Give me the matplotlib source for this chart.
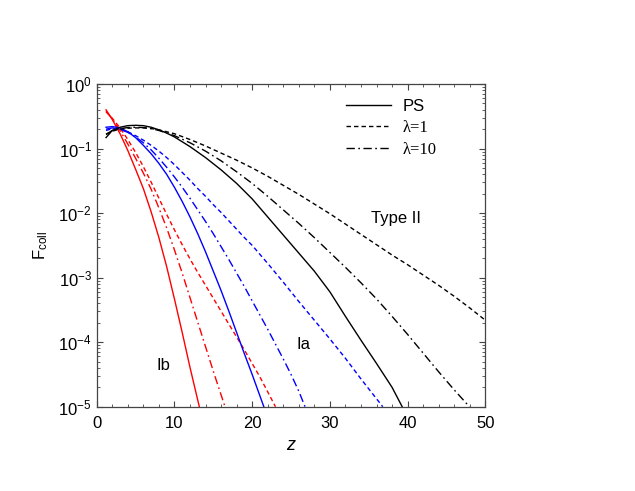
import numpy as np
import matplotlib
matplotlib.use("Agg")
import matplotlib.pyplot as plt
from matplotlib.ticker import MultipleLocator, LogLocator, NullFormatter

plt.rcParams['font.family'] = ['Liberation Sans', 'DejaVu Sans']
plt.rcParams['mathtext.fontset'] = 'custom'
plt.rcParams['mathtext.rm'] = 'Liberation Sans'
plt.rcParams['mathtext.it'] = 'Liberation Sans:italic'

# collapsed fraction, stored as log10(F_coll) against redshift z
# Type Ib (red)
z_ib_ps = [1.2, 2, 3, 4, 5, 6, 7, 8, 9, 10, 11, 12, 13.2]
lf_ib_ps = [-0.40, -0.55, -0.77, -1.03, -1.32, -1.62, -1.98, -2.38, -2.83,
            -3.33, -3.85, -4.39, -5.0]
z_ib_l1 = [1.2, 2, 3, 4, 5, 6, 7, 8, 9, 10, 11, 12, 13, 14, 15, 16, 17, 18,
           19, 20, 21, 22, 23]
lf_ib_l1 = [-0.43, -0.53, -0.68, -0.86, -1.06, -1.28, -1.52, -1.77, -2.02,
            -2.26, -2.49, -2.71, -2.92, -3.12, -3.32, -3.52, -3.72, -3.92,
            -4.12, -4.33, -4.54, -4.77, -5.0]
z_ib_l10 = [1.2, 2, 3, 4, 5, 6, 7, 8, 9, 10, 11, 12, 13, 14, 15, 16.5]
lf_ib_l10 = [-0.42, -0.54, -0.72, -0.93, -1.15, -1.38, -1.63, -1.92, -2.23,
             -2.57, -2.93, -3.31, -3.69, -4.07, -4.45, -5.0]

# Type Ia (blue)
z_ia_ps = [1.2, 2, 3, 4, 5, 6, 7, 8, 9, 10, 11, 12, 13, 14, 15, 16, 17, 18,
           19, 20, 21.5]
lf_ia_ps = [-0.67, -0.66, -0.68, -0.74, -0.83, -0.95, -1.08, -1.23, -1.40,
            -1.60, -1.82, -2.06, -2.32, -2.60, -2.90, -3.20, -3.52, -3.85,
            -4.18, -4.50, -5.0]
z_ia_l1 = [1.2, 2, 3, 4, 5, 6, 7, 8, 9, 10, 11, 12, 13, 14, 15, 16, 17, 18,
           19, 20, 22, 24, 26, 28, 30, 32, 34, 36.8]
lf_ia_l1 = [-0.72, -0.69, -0.70, -0.74, -0.80, -0.87, -0.95, -1.04, -1.14,
            -1.25, -1.37, -1.49, -1.62, -1.74, -1.87, -1.99, -2.12, -2.25,
            -2.38, -2.50, -2.78, -3.07, -3.37, -3.66, -3.95, -4.25, -4.57,
            -5.0]
z_ia_l10 = [1.2, 2, 3, 4, 5, 6, 7, 8, 9, 10, 11, 12, 13, 14, 15, 16, 17, 18,
            19, 20, 21, 22, 23, 24, 25, 26, 26.8]
lf_ia_l10 = [-0.70, -0.68, -0.70, -0.75, -0.82, -0.91, -1.02, -1.15, -1.29,
             -1.44, -1.60, -1.77, -1.95, -2.13, -2.32, -2.52, -2.72, -2.93,
             -3.14, -3.36, -3.58, -3.80, -4.03, -4.26, -4.50, -4.76, -5.0]

# Type II (black)
z_ii_ps = [1.2, 2, 3, 4, 5, 6, 7, 8, 9, 10, 12, 14, 16, 18, 20, 22, 24, 26,
           28, 30, 32, 34, 36, 38, 39.3]
lf_ii_ps = [-0.83, -0.72, -0.67, -0.645, -0.64, -0.645, -0.67, -0.71, -0.76,
            -0.82, -0.97, -1.14, -1.33, -1.54, -1.78, -2.06, -2.34, -2.62,
            -2.90, -3.22, -3.60, -3.97, -4.33, -4.70, -5.0]
z_ii_l1 = [1.2, 2, 3, 4, 5, 6, 7, 8, 10, 12, 14, 16, 18, 20, 22, 24, 26, 28,
           30, 32, 34, 36, 38, 40, 42, 44, 46, 48, 50]
lf_ii_l1 = [-0.78, -0.73, -0.70, -0.685, -0.68, -0.68, -0.69, -0.71, -0.77,
            -0.86, -0.96, -1.07, -1.18, -1.30, -1.43, -1.57, -1.71, -1.86,
            -2.01, -2.17, -2.33, -2.49, -2.65, -2.80, -2.96, -3.12, -3.29,
            -3.47, -3.66]
z_ii_l10 = [1.2, 2, 3, 4, 5, 6, 7, 8, 10, 12, 14, 16, 18, 20, 22, 24, 26, 28,
            30, 32, 34, 36, 38, 40, 42, 44, 46, 47.95]
lf_ii_l10 = [-0.78, -0.72, -0.69, -0.675, -0.67, -0.675, -0.69, -0.72, -0.80,
             -0.91, -1.04, -1.19, -1.36, -1.54, -1.74, -1.95, -2.16, -2.38,
             -2.61, -2.84, -3.08, -3.33, -3.60, -3.88, -4.17, -4.46, -4.74,
             -5.0]

legend_labels = ['PS', r'λ=1', r'λ=10']

DASHED = (0, (3.2, 2.2))
DASHDOT = (0, (6, 2.5, 1.2, 2.5))


def main():
    fig = plt.figure(figsize=(6.35, 4.91), dpi=100)
    ax = fig.add_axes([0.1523, 0.1717, 0.612, 0.6572])

    series = [
        (z_ib_ps, lf_ib_ps, 'red', '-'),
        (z_ib_l1, lf_ib_l1, 'red', DASHED),
        (z_ib_l10, lf_ib_l10, 'red', DASHDOT),
        (z_ia_ps, lf_ia_ps, 'blue', '-'),
        (z_ia_l1, lf_ia_l1, 'blue', DASHED),
        (z_ia_l10, lf_ia_l10, 'blue', DASHDOT),
        (z_ii_ps, lf_ii_ps, 'black', '-'),
        (z_ii_l1, lf_ii_l1, 'black', DASHED),
        (z_ii_l10, lf_ii_l10, 'black', DASHDOT),
    ]
    for z, lf, color, ls in series:
        ax.plot(z, 10.0 ** np.array(lf), color=color, linestyle=ls, lw=1.0)

    ax.set_yscale('log')
    ax.set_xlim(0, 50)
    ax.set_ylim(1e-5, 1)

    ax.xaxis.set_major_locator(MultipleLocator(10))
    ax.xaxis.set_minor_locator(MultipleLocator(2))
    ax.yaxis.set_major_locator(LogLocator(base=10, numticks=10))
    ax.yaxis.set_minor_locator(LogLocator(base=10, subs=np.arange(2, 10), numticks=10))
    ax.yaxis.set_minor_formatter(NullFormatter())
    ax.tick_params(which='both', direction='in', top=True, right=True,
                   labelsize=12, color='#444444')
    ax.tick_params(which='major', length=4.5, width=0.8)
    ax.tick_params(which='minor', length=2.5, width=0.6)
    ax.tick_params(axis='x', pad=7)
    for sp in ax.spines.values():
        sp.set_color('#444444')
        sp.set_linewidth(0.9)

    ax.set_xlabel(r'$\it{z}$', fontsize=13, labelpad=4)
    ax.set_ylabel(r'F$_{\rm coll}$', fontsize=12, labelpad=6)

    # curve group labels
    ax.text(8.57, 10 ** -4.36, 'Ib', fontsize=12, ha='center', va='center')
    ax.text(26.6, 10 ** -4.03, 'Ia', fontsize=12, ha='center', va='center')
    ax.text(38.5, 10 ** -2.08, 'Type II', fontsize=12, ha='center', va='center')

    # legend with black line styles only
    handles = [plt.Line2D([], [], color='black', lw=1.0, linestyle=ls)
               for ls in ['-', DASHED, DASHDOT]]
    leg = ax.legend(handles, legend_labels, loc='upper left',
                    bbox_to_anchor=(0.641, 0.955), frameon=False, fontsize=12,
                    borderpad=0, borderaxespad=0, handlelength=2.7,
                    handletextpad=0.7, labelspacing=0.38)
    for t in leg.get_texts()[1:]:
        t.set_family('Liberation Serif')

    fig.savefig('out.png', dpi=100)


if __name__ == "__main__":
    main()
